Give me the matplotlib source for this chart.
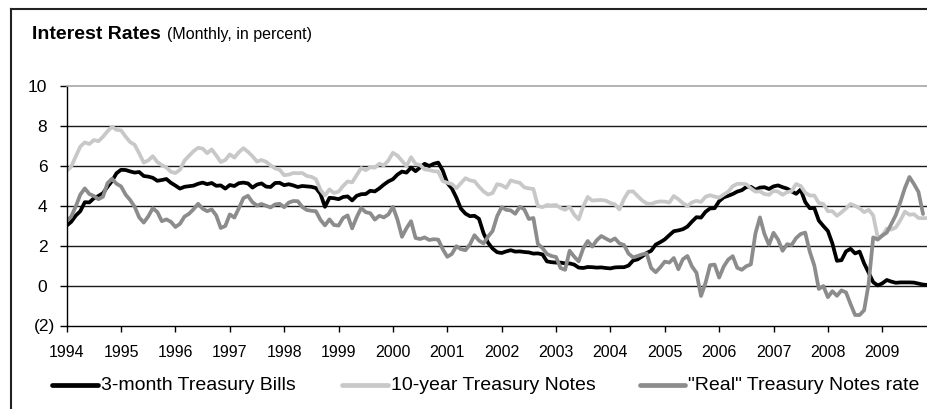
import numpy as np
import matplotlib.pyplot as plt
from matplotlib.lines import Line2D

plt.rcParams['font.family'] = ['Liberation Sans', 'DejaVu Sans']

# monthly data, Jan 1994 onwards (percent)
start_year = 1994

bills = [
    3.02, 3.21, 3.52, 3.74, 4.19, 4.18, 4.39, 4.50, 4.64, 4.96, 5.25, 5.64,  # 1994
    5.81, 5.80, 5.73, 5.67, 5.70, 5.50, 5.47, 5.41, 5.26, 5.30, 5.35, 5.16,  # 1995
    5.02, 4.87, 4.96, 4.99, 5.02, 5.11, 5.17, 5.09, 5.15, 5.01, 5.03, 4.87,  # 1996
    5.05, 5.00, 5.14, 5.17, 5.13, 4.92, 5.07, 5.13, 4.97, 4.95, 5.15, 5.16,  # 1997
    5.04, 5.09, 5.03, 4.95, 5.00, 4.98, 4.96, 4.90, 4.61, 3.96, 4.41, 4.39,  # 1998
    4.34, 4.45, 4.48, 4.28, 4.51, 4.59, 4.60, 4.76, 4.73, 4.88, 5.07, 5.23,  # 1999
    5.34, 5.57, 5.72, 5.67, 5.92, 5.74, 5.93, 6.11, 6.00, 6.11, 6.17, 5.77,  # 2000
    5.15, 4.88, 4.42, 3.87, 3.62, 3.49, 3.51, 3.36, 2.64, 2.16, 1.87, 1.69,  # 2001
    1.65, 1.73, 1.79, 1.72, 1.73, 1.70, 1.68, 1.62, 1.63, 1.58, 1.23, 1.19,  # 2002
    1.17, 1.17, 1.13, 1.13, 1.07, 0.92, 0.90, 0.95, 0.94, 0.92, 0.93, 0.90,  # 2003
    0.88, 0.93, 0.94, 0.94, 1.02, 1.27, 1.33, 1.48, 1.65, 1.76, 2.07, 2.19,  # 2004
    2.33, 2.54, 2.74, 2.78, 2.84, 2.97, 3.22, 3.44, 3.42, 3.71, 3.88, 3.89,  # 2005
    4.24, 4.43, 4.51, 4.60, 4.72, 4.79, 4.95, 4.96, 4.81, 4.92, 4.94, 4.85,  # 2006
    4.98, 5.03, 4.94, 4.87, 4.73, 4.61, 4.82, 4.20, 3.89, 3.90, 3.27, 3.00,  # 2007
    2.75, 2.12, 1.26, 1.29, 1.73, 1.86, 1.63, 1.72, 1.13, 0.67, 0.19, 0.03,  # 2008
    0.13, 0.30, 0.22, 0.16, 0.18, 0.18, 0.18, 0.17, 0.12, 0.07, 0.05,        # 2009
]

notes = [
    5.75, 5.97, 6.48, 6.97, 7.18, 7.10, 7.30, 7.24, 7.46, 7.74, 7.96, 7.81,
    7.78, 7.47, 7.20, 7.06, 6.63, 6.17, 6.28, 6.49, 6.20, 6.04, 5.93, 5.71,
    5.65, 5.81, 6.27, 6.51, 6.74, 6.91, 6.87, 6.64, 6.83, 6.53, 6.20, 6.30,
    6.58, 6.42, 6.69, 6.89, 6.71, 6.49, 6.22, 6.30, 6.21, 6.03, 5.88, 5.81,
    5.54, 5.57, 5.65, 5.64, 5.65, 5.50, 5.46, 5.34, 4.81, 4.53, 4.83, 4.65,
    4.72, 5.00, 5.23, 5.18, 5.54, 5.90, 5.79, 5.94, 5.92, 6.11, 6.03, 6.28,
    6.66, 6.52, 6.26, 5.99, 6.44, 6.10, 6.05, 5.83, 5.80, 5.74, 5.72, 5.24,
    5.16, 5.10, 4.89, 5.14, 5.39, 5.28, 5.24, 4.97, 4.73, 4.57, 4.65, 5.09,
    5.04, 4.91, 5.28, 5.21, 5.16, 4.93, 4.88, 4.85, 4.00, 3.94, 4.05, 4.03,
    4.05, 3.90, 3.81, 3.96, 3.57, 3.33, 3.98, 4.45, 4.27, 4.29, 4.30, 4.27,
    4.15, 4.08, 3.83, 4.35, 4.72, 4.73, 4.50, 4.28, 4.13, 4.10, 4.19, 4.23,
    4.22, 4.17, 4.50, 4.34, 4.14, 4.00, 4.18, 4.26, 4.20, 4.46, 4.54, 4.47,
    4.42, 4.57, 4.72, 4.99, 5.11, 5.11, 5.09, 4.88, 4.72, 4.73, 4.60, 4.56,
    4.76, 4.72, 4.56, 4.69, 4.75, 5.10, 5.00, 4.67, 4.52, 4.53, 4.15, 4.10,
    3.74, 3.74, 3.51, 3.68, 3.88, 4.10, 4.01, 3.89, 3.69, 3.81, 3.53, 2.42,
    2.52, 2.87, 2.82, 2.93, 3.29, 3.72, 3.56, 3.59, 3.40, 3.39, 3.40,
]

real = [
    3.25, 3.47, 3.98, 4.57, 4.88, 4.60, 4.50, 4.34, 4.46, 5.14, 5.36, 5.11,
    4.98, 4.57, 4.30, 3.96, 3.43, 3.17, 3.48, 3.89, 3.70, 3.24, 3.33, 3.21,
    2.95, 3.11, 3.47, 3.61, 3.84, 4.11, 3.87, 3.74, 3.83, 3.53, 2.90, 3.00,
    3.58, 3.42, 3.89, 4.39, 4.51, 4.19, 4.02, 4.10, 4.01, 3.93, 4.08, 4.11,
    3.94, 4.17, 4.25, 4.24, 3.95, 3.80, 3.76, 3.74, 3.31, 3.03, 3.33, 3.05,
    3.02, 3.40, 3.53, 2.88, 3.44, 3.90, 3.69, 3.64, 3.32, 3.51, 3.43, 3.58,
    3.96, 3.32, 2.46, 2.89, 3.24, 2.40, 2.35, 2.43, 2.30, 2.34, 2.32, 1.84,
    1.46, 1.60, 1.99, 1.84, 1.79, 2.08, 2.54, 2.27, 2.13, 2.47, 2.75, 3.49,
    3.94, 3.81, 3.78, 3.61, 3.96, 3.83, 3.35, 3.40, 2.10, 1.90, 1.60, 1.50,
    1.45, 0.90, 0.81, 1.76, 1.47, 1.23, 1.88, 2.25, 1.97, 2.29, 2.50, 2.37,
    2.25, 2.38, 2.13, 2.05, 1.62, 1.43, 1.50, 1.58, 1.63, 0.90, 0.69, 0.93,
    1.22, 1.17, 1.40, 0.84, 1.34, 1.50, 0.98, 0.66, -0.50, 0.16, 1.04, 1.07,
    0.42, 0.97, 1.32, 1.49, 0.91, 0.81, 0.99, 1.08, 2.62, 3.43, 2.60, 2.06,
    2.66, 2.32, 1.76, 2.09, 2.05, 2.40, 2.60, 2.67, 1.72, 1.03, -0.15, 0.00,
    -0.56, -0.26, -0.49, -0.22, -0.32, -0.90, -1.45, -1.45, -1.21, 0.11, 2.43, 2.32,
    2.52, 2.67, 3.10, 3.55, 4.20, 4.90, 5.45, 5.10, 4.70, 3.60,
]

series_labels = ['3-month Treasury Bills', '10-year Treasury Notes', '"Real" Treasury Notes rate']
series_colors = ['#000000', '#c8c8c8', '#8c8c8c']
year_ticks = list(range(1994, 2010))
y_ticks = [-2, 0, 2, 4, 6, 8, 10]
y_tick_labels = ['', '0', '2', '4', '6', '8', '10']

W, H = 928, 409
fig = plt.figure(figsize=(W / 100, H / 100), dpi=100)

# plot area in pixels: left 66.7, top 86, bottom 326, runs off the right edge
left_px, top_px, bot_px = 66.7, 86, 326
ax = fig.add_axes([left_px / W, 1 - bot_px / H, 1 - left_px / W, (bot_px - top_px) / H])

t = start_year + np.arange(len(bills)) / 12.0
for vals, color, lab in zip([bills, notes, real], series_colors, series_labels):
    ax.plot(t[:len(vals)], vals, color=color, lw=2.7, solid_joinstyle='round',
            solid_capstyle='round', label=lab)

px_per_year = 54.37
ax.set_xlim(start_year, start_year + (W - left_px) / px_per_year)
ax.set_ylim(-2, 10)

for y in y_ticks[1:-1]:
    ax.axhline(y, color='#1a1a1a', lw=1.0, zorder=0)

ax.spines['right'].set_visible(False)
ax.spines['top'].set_color('#a6a6a6')
ax.spines['top'].set_linewidth(1.2)
ax.spines['left'].set_linewidth(1.0)
ax.spines['bottom'].set_linewidth(1.0)

ax.set_yticks(y_ticks)
ax.set_yticklabels(y_tick_labels)
ax.set_xticks(year_ticks)
ax.set_xticklabels([str(y) for y in year_ticks])
ax.tick_params(axis='y', direction='out', length=5, width=1, labelsize=12.5, pad=9)
ax.tick_params(axis='x', direction='out', length=4.5, width=1, labelsize=11.5, pad=9)
ax.annotate('(2)', xy=(0, -2), xycoords=('axes fraction', 'data'),
            xytext=(-12, 0), textcoords='offset pixels', ha='right', va='center',
            fontsize=12.5, annotation_clip=False)

# title
fig.text(32 / W, 1 - 39 / H, 'Interest Rates', fontsize=14, fontweight='bold',
         va='baseline', ha='left')
fig.text(167 / W, 1 - 39 / H, '(Monthly, in percent)', fontsize=11.5,
         va='baseline', ha='left')

# legend drawn along the bottom
leg_y = 1 - 385 / H
leg_x = [(52, 98), (342, 388), (640, 685)]
for (x0, x1), color, lab in zip(leg_x, series_colors, series_labels):
    fig.add_artist(Line2D([x0 / W, x1 / W], [leg_y, leg_y], color=color, lw=3.4,
                          solid_capstyle='round'))
    fig.text((x1 + 3) / W, leg_y, lab, fontsize=14, va='center', ha='left')

# outer frame (left and top)
fig.add_artist(Line2D([11.5 / W, 11.5 / W], [0, 1 - 9 / H], color='#222222', lw=1.5))
fig.add_artist(Line2D([11.5 / W, 1], [1 - 9 / H, 1 - 9 / H], color='#222222', lw=1.5))

fig.savefig('out.png', dpi=100)
